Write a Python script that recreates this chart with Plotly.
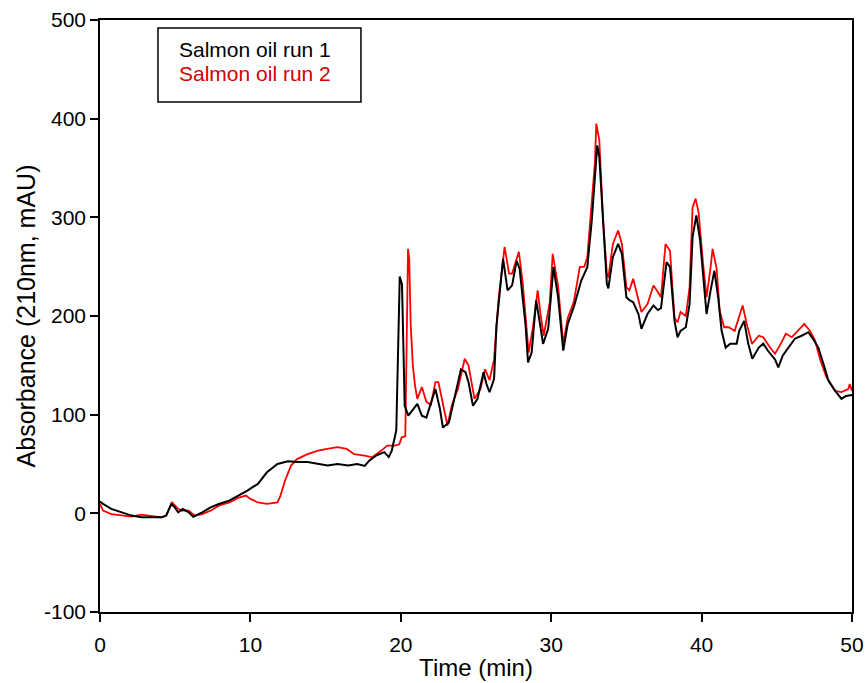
import plotly.graph_objects as go

# Chromatogram readings: retention time (min) and absorbance (mAU)
run1_time = [0.0, 0.2, 0.75, 1.4, 2.1, 2.75, 3.4, 4.1, 4.4, 4.74, 4.97, 5.2, 5.5, 5.9, 6.2, 6.8,
             7.35, 7.9, 8.6, 9.25, 9.8, 10.2, 10.5, 11.1, 11.8, 12.5, 13.1, 13.8, 14.5, 15.13,
             15.8, 16.5, 17.1, 17.6, 17.9, 18.35, 18.9, 19.2, 19.4, 19.7, 19.93, 20.08, 20.26,
             20.5, 21.1, 21.4, 21.7, 22.0, 22.3, 22.6, 22.8, 23.2, 23.6, 24.0, 24.3, 24.5, 24.8,
             25.1, 25.5, 25.7, 25.9, 26.2, 26.36, 26.6, 26.8, 27.1, 27.4, 27.7, 27.9, 28.3,
             28.46, 28.7, 29.0, 29.2, 29.46, 29.8, 30.15, 30.46, 30.8, 31.1, 31.5, 32.0, 32.4,
             32.7, 32.9, 33.06, 33.2, 33.45, 33.7, 33.8, 34.1, 34.45, 34.7, 35.0, 35.2, 35.45,
             35.8, 36.0, 36.4, 36.8, 37.1, 37.3, 37.67, 37.9, 38.2, 38.4, 38.6, 38.95, 39.2,
             39.4, 39.65, 39.9, 40.1, 40.33, 40.6, 40.85, 41.1, 41.33, 41.6, 41.9, 42.33, 42.5,
             42.83, 43.1, 43.37, 43.8, 44.1, 44.4, 44.88, 45.1, 45.4, 45.76, 46.2, 46.65, 47.1,
             47.4, 47.76, 48.1, 48.43, 48.87, 49.3, 49.6, 50.0]
run1_abs = [12, 9.5, 4.5, 1, -2.3, -4, -4, -4, -2.3, 9.5, 6, 1, 4.5, 1, -3.4, 1,
            6, 9.5, 12.9, 18, 23, 27, 29.8, 41.6, 50, 52.7, 52, 52, 50, 48.4,
            50, 48.4, 50, 48, 53.4, 58.5, 62, 57, 63.6, 84, 240, 232, 109,
            99, 111, 99, 97, 112.6, 126, 106, 87, 92, 119, 146, 143, 133, 109,
            116, 143, 131, 122.7, 136, 190, 231, 258, 226, 231, 256, 248, 190,
            153, 163, 215.7, 197, 171.8, 187, 249.5, 219, 165, 192, 209, 236, 249.5,
            297, 340.8, 373, 361, 290, 232.6, 228, 259.6, 273, 263, 219, 216, 214,
            202, 187, 202, 210.7, 206, 208, 254.6, 249.5, 195, 178.5, 185, 188.6, 212,
            280, 302, 276.6, 243, 202, 226, 246, 219, 185, 168, 172, 172, 185,
            195, 172, 156.6, 168, 172, 165, 156, 148, 160, 168, 177, 180, 183.6,
            177, 168, 151.5, 134.6, 124.4, 116, 119, 120]

run2_time = [0.0, 0.2, 0.75, 1.4, 2.1, 2.75, 3.4, 4.1, 4.4, 4.8, 5.1, 5.4, 5.9, 6.3, 6.8, 7.35,
             7.9, 8.6, 9.25, 9.7, 10.0, 10.5, 11.1, 11.8, 12.0, 12.3, 12.7, 13.1, 13.8, 14.5,
             15.1, 15.8, 16.4, 16.9, 17.6, 18.1, 18.7, 19.1, 19.6, 19.9, 20.06, 20.3, 20.48,
             20.56, 20.66, 20.8, 20.95, 21.1, 21.4, 21.7, 22.0, 22.3, 22.5, 22.9, 23.1, 23.4,
             23.8, 24.25, 24.5, 24.9, 25.3, 25.6, 25.9, 26.2, 26.5, 26.9, 27.2, 27.4, 27.85,
             28.1, 28.5, 28.8, 29.1, 29.3, 29.5, 29.9, 30.1, 30.46, 30.8, 31.1, 31.5, 31.9,
             32.2, 32.4, 32.7, 32.9, 33.0, 33.2, 33.45, 33.7, 33.8, 34.1, 34.45, 34.7, 35.0,
             35.2, 35.45, 35.8, 36.0, 36.4, 36.8, 37.1, 37.3, 37.6, 37.9, 38.2, 38.4, 38.6,
             38.95, 39.2, 39.4, 39.6, 39.8, 40.1, 40.33, 40.6, 40.73, 41.0, 41.2, 41.5, 41.8,
             42.2, 42.5, 42.73, 43.0, 43.35, 43.8, 44.1, 44.55, 44.88, 45.2, 45.6, 46.0, 46.4,
             46.83, 47.2, 47.55, 47.9, 48.3, 48.87, 49.3, 49.75, 49.85, 50.0]
run2_abs = [9.5, 2.7, -0.7, -2.3, -3.4, -1.3, -2.3, -4, -2, 11, 6, 2.7, 2.7, -2.3, -0.7, 2.7,
            7.8, 11, 16, 18, 14.6, 11, 9.5, 11, 18, 33, 48.4, 55, 60, 63.6,
            65.3, 67, 65.3, 60, 58.5, 56.8, 63.6, 68.7, 68.7, 70, 77, 78, 268,
            258, 191, 150, 129, 116, 128, 113, 110, 133, 133, 102, 89, 110,
            126, 156.6, 150, 116, 126, 146, 135, 156, 217, 270, 243, 243, 265,
            235, 163, 190, 226, 201, 180, 213.6, 263, 230, 171.8, 198, 214, 249.5,
            250, 259.6, 320.5, 354, 395, 378, 297, 243, 239, 273, 286.7, 273, 229,
            226, 237.7, 216, 204, 212, 231, 224, 219, 273, 266, 198, 193.7, 204,
            200, 229, 310, 319, 305, 253, 219, 249.5, 268, 248, 205.6, 188.6, 188.6,
            185, 198.8, 210.7, 192, 171.8, 180, 178.5, 168, 161.7, 170, 182, 178.5, 185,
            192, 185, 175, 155, 138, 124, 122.8, 126, 131, 124]

series_names = ["Salmon oil run 1", "Salmon oil run 2"]
x_ticks = [0, 10, 20, 30, 40, 50]
y_ticks = [-100, 0, 100, 200, 300, 400, 500]

FONT = "Arial, Liberation Sans, sans-serif"

fig = go.Figure()
fig.add_trace(go.Scatter(x=run2_time, y=run2_abs, mode="lines", name=series_names[1],
                         line=dict(color="#ff0000", width=1.8), showlegend=False))
fig.add_trace(go.Scatter(x=run1_time, y=run1_abs, mode="lines", name=series_names[0],
                         line=dict(color="#000000", width=2.0), showlegend=False))

axis_common = dict(showline=True, linecolor="black", linewidth=1.5, mirror=True,
                   ticks="outside", ticklen=8, tickwidth=1.5, tickcolor="black",
                   showgrid=False, zeroline=False, automargin=False,
                   tickfont=dict(family=FONT, size=21, color="black"))

fig.update_xaxes(range=[0, 50], tickvals=x_ticks, ticktext=[str(v) for v in x_ticks],
                 ticklabelstandoff=5,
                 title=dict(text="Time (min)", font=dict(family=FONT, size=24, color="black"),
                            standoff=4),
                 **axis_common)
fig.update_yaxes(range=[-100, 500], tickvals=y_ticks, ticktext=[str(v) for v in y_ticks],
                 title=dict(text="Absorbance (210nm, mAU)",
                            font=dict(family=FONT, size=25, color="black"), standoff=1),
                 **axis_common)

# Boxed legend with coloured text entries
fig.add_shape(type="rect", xref="paper", yref="paper",
              x0=0.0771, x1=0.347, y0=0.8615, y1=0.9865,
              line=dict(color="black", width=1.5), fillcolor="white")
fig.add_annotation(xref="paper", yref="paper", x=0.103, y=0.951, xanchor="left",
                   yanchor="middle", showarrow=False, text=series_names[0],
                   font=dict(family=FONT, size=21, color="black"))
fig.add_annotation(xref="paper", yref="paper", x=0.103, y=0.910, xanchor="left",
                   yanchor="middle", showarrow=False, text=series_names[1],
                   font=dict(family=FONT, size=21, color="#d40000"))

fig.update_layout(width=867, height=683, margin=dict(l=100, r=15, t=20, b=71),
                  plot_bgcolor="white", paper_bgcolor="white",
                  font=dict(family=FONT, color="black"))

fig.write_html("out.html")
